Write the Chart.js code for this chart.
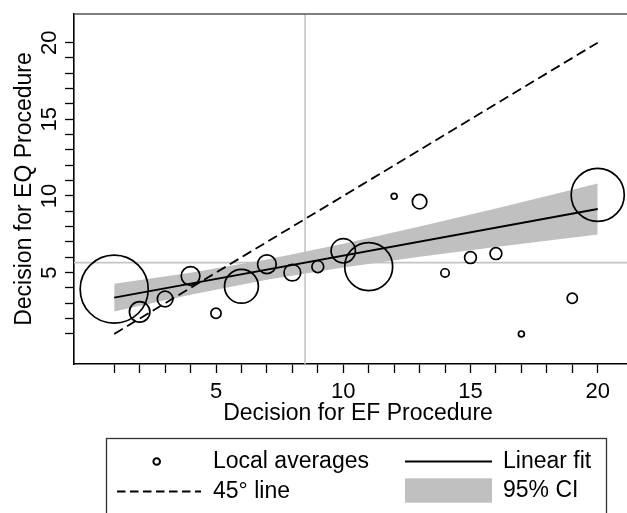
<!DOCTYPE html>
<html>
<head>
    <title>EQ vs EF decisions</title>
    <script src="https://cdn.jsdelivr.net/npm/chart.js"></script>
    <style>
        body { margin: 0; overflow: hidden; background: #fff; }
    </style>
</head>
<body>
    <!-- 右端は元画像と同じく少しはみ出させる -->
    <canvas id="scatterChart" width="642" height="513"></canvas>
    <script>
        // 各ビンの値 (EF procedure decision)
        const bins = [1, 2, 3, 4, 5, 6, 7, 8, 9, 10, 11, 12, 13, 14, 15, 16, 17, 19, 20];
        // ローカル平均 (EQ procedure decision)
        const localAverages = [3.92, 2.44, 3.28, 4.78, 2.35, 4.11, 5.55, 5.0, 5.39, 6.42, 5.39, 9.98, 9.63, 4.98, 5.98, 6.24, 1.0, 3.33, 10.07];
        // 各ビンの観測数 (マーカーの重み)
        const binCounts = [133, 12, 7, 10, 3, 33, 10, 8, 4, 17, 66, 1, 6, 2, 4, 4, 1, 3, 81];

        // 線形フィット
        const fitX = [1, 20];
        const fitY = [3.37, 9.15];

        // 95% 信頼区間
        const ciX = [1, 4, 7, 10, 13, 16, 20];
        const ciUpper = [4.27, 5.00, 5.86, 6.88, 8.01, 9.19, 10.81];
        const ciLower = [2.47, 3.56, 4.53, 5.33, 6.03, 6.67, 7.49];

        // 45度線
        const diagX = [1, 20];
        const diagY = [1, 20];

        // 平均の参照線
        const meanEF = 8.5;
        const meanEQ = 5.65;

        // 目盛り
        const tickValues = [1, 2, 3, 4, 5, 6, 7, 8, 9, 10, 11, 12, 13, 14, 15, 16, 17, 18, 19, 20];
        const labeledTicks = [5, 10, 15, 20];

        const xMin = -0.58, xMax = 21.74;
        const yMin = -0.96, yMax = 21.87;

        const FONT = "'Liberation Sans', Arial, Helvetica, sans-serif";

        const toPoints = (xs, ys) => xs.map((x, i) => ({ x: x, y: ys[i] }));

        const bubbleData = bins.map((x, i) => ({
            x: x,
            y: localAverages[i],
            r: 2.95 * Math.sqrt(binCounts[i]),
        }));

        const lineStyle = { pointRadius: 0, tension: 0, fill: false };

        // 枠線と凡例を描くプラグイン
        const framePlugin = {
            id: "frame",
            afterDraw(chart) {
                const ctx = chart.ctx;
                const area = chart.chartArea;
                ctx.save();
                ctx.strokeStyle = "#555";
                ctx.lineWidth = 1.5;
                ctx.beginPath();
                ctx.moveTo(area.left, area.top);
                ctx.lineTo(area.right, area.top);
                ctx.stroke();

                // 凡例
                ctx.strokeStyle = "#333";
                ctx.lineWidth = 1.3;
                ctx.strokeRect(106.5, 438.5, 500, 100);

                ctx.fillStyle = "#000";
                ctx.font = "23px " + FONT;
                ctx.textBaseline = "middle";
                ctx.textAlign = "left";

                ctx.strokeStyle = "#000";
                ctx.lineWidth = 2;
                ctx.beginPath();
                ctx.arc(156.7, 461.5, 3.3, 0, Math.PI * 2);
                ctx.stroke();
                ctx.fillText("Local averages", 213, 462);

                ctx.lineWidth = 1.8;
                ctx.beginPath();
                ctx.moveTo(405, 461.5);
                ctx.lineTo(492, 461.5);
                ctx.stroke();
                ctx.fillText("Linear fit", 503, 462);

                ctx.setLineDash([8.5, 4.5]);
                ctx.beginPath();
                ctx.moveTo(117, 491.5);
                ctx.lineTo(201, 491.5);
                ctx.stroke();
                ctx.setLineDash([]);
                ctx.fillText("45° line", 213, 492);

                ctx.fillStyle = "#c0c0c0";
                ctx.fillRect(405, 478.3, 87, 24.4);
                ctx.fillStyle = "#000";
                ctx.fillText("95% CI", 503, 491);
                ctx.restore();
            },
        };

        const ctx = document.getElementById("scatterChart").getContext("2d");

        const config = {
            type: "scatter",
            data: {
                datasets: [
                    {
                        type: "bubble",
                        label: "Local averages",
                        data: bubbleData,
                        backgroundColor: "rgba(0,0,0,0)",
                        borderColor: "#000",
                        borderWidth: 1.7,
                        order: 0,
                    },
                    {
                        type: "line",
                        label: "Linear fit",
                        data: toPoints(fitX, fitY),
                        borderColor: "#000",
                        borderWidth: 1.8,
                        order: 1,
                        ...lineStyle,
                    },
                    {
                        type: "line",
                        label: "45° line",
                        data: toPoints(diagX, diagY),
                        borderColor: "#000",
                        borderWidth: 1.8,
                        borderDash: [10, 5],
                        order: 2,
                        ...lineStyle,
                    },
                    {
                        type: "line",
                        label: "CI lower",
                        data: toPoints(ciX, ciLower),
                        borderWidth: 0,
                        borderColor: "rgba(0,0,0,0)",
                        order: 3,
                        ...lineStyle,
                    },
                    {
                        type: "line",
                        label: "95% CI",
                        data: toPoints(ciX, ciUpper),
                        borderWidth: 0,
                        borderColor: "rgba(0,0,0,0)",
                        order: 4,
                        ...lineStyle,
                        fill: "-1",
                        backgroundColor: "#c0c0c0",
                    },
                    {
                        type: "line",
                        label: "mean EF",
                        data: [{ x: meanEF, y: yMin }, { x: meanEF, y: yMax }],
                        borderColor: "#c4c4c4",
                        borderWidth: 1.6,
                        order: 5,
                        ...lineStyle,
                    },
                    {
                        type: "line",
                        label: "mean EQ",
                        data: [{ x: xMin, y: meanEQ }, { x: xMax, y: meanEQ }],
                        borderColor: "#c4c4c4",
                        borderWidth: 1.6,
                        order: 6,
                        ...lineStyle,
                    },
                ],
            },
            options: {
                responsive: false,
                animation: false,
                devicePixelRatio: 1,
                events: [],
                layout: { autoPadding: false, padding: { top: 14, right: 0, bottom: 0, left: 0 } },
                plugins: {
                    legend: { display: false },
                    tooltip: { enabled: false },
                },
                scales: {
                    x: {
                        type: "linear",
                        min: xMin,
                        max: xMax,
                        afterBuildTicks: (scale) => {
                            scale.ticks = tickValues.map((v) => ({ value: v }));
                        },
                        afterFit: (scale) => {
                            scale.height = 149;
                            scale.paddingLeft = 0;
                            scale.paddingRight = 0;
                        },
                        grid: {
                            drawOnChartArea: false,
                            drawTicks: true,
                            tickLength: 9,
                            tickColor: "#000",
                            tickWidth: 1.3,
                        },
                        border: { display: true, color: "#000", width: 1.6 },
                        ticks: {
                            autoSkip: false,
                            maxRotation: 0,
                            minRotation: 0,
                            padding: 6,
                            color: "#000",
                            font: { family: FONT, size: 22 },
                            callback: (v) => (labeledTicks.includes(v) ? String(v) : ""),
                        },
                        title: {
                            display: true,
                            text: "Decision for EF Procedure",
                            color: "#000",
                            font: { family: FONT, size: 23 },
                            padding: { top: 0, bottom: 86 },
                        },
                    },
                    y: {
                        type: "linear",
                        min: yMin,
                        max: yMax,
                        afterBuildTicks: (scale) => {
                            scale.ticks = tickValues.map((v) => ({ value: v }));
                        },
                        afterFit: (scale) => {
                            scale.width = 74;
                            scale.paddingTop = 0;
                            scale.paddingBottom = 0;
                        },
                        grid: {
                            drawOnChartArea: false,
                            drawTicks: true,
                            tickLength: 9,
                            tickColor: "#000",
                            tickWidth: 1.3,
                        },
                        border: { display: true, color: "#000", width: 1.6 },
                        ticks: {
                            autoSkip: false,
                            minRotation: 90,
                            maxRotation: 90,
                            crossAlign: "center",
                            padding: 3,
                            color: "#000",
                            font: { family: FONT, size: 22 },
                            callback: (v) => (labeledTicks.includes(v) ? String(v) : ""),
                        },
                        title: {
                            display: true,
                            text: "Decision for EQ Procedure",
                            color: "#000",
                            font: { family: FONT, size: 23 },
                            padding: { top: 11, bottom: 0 },
                        },
                    },
                },
            },
            plugins: [framePlugin],
        };

        const scatterChart = new Chart(ctx, config);
    </script>
</body>
</html>
